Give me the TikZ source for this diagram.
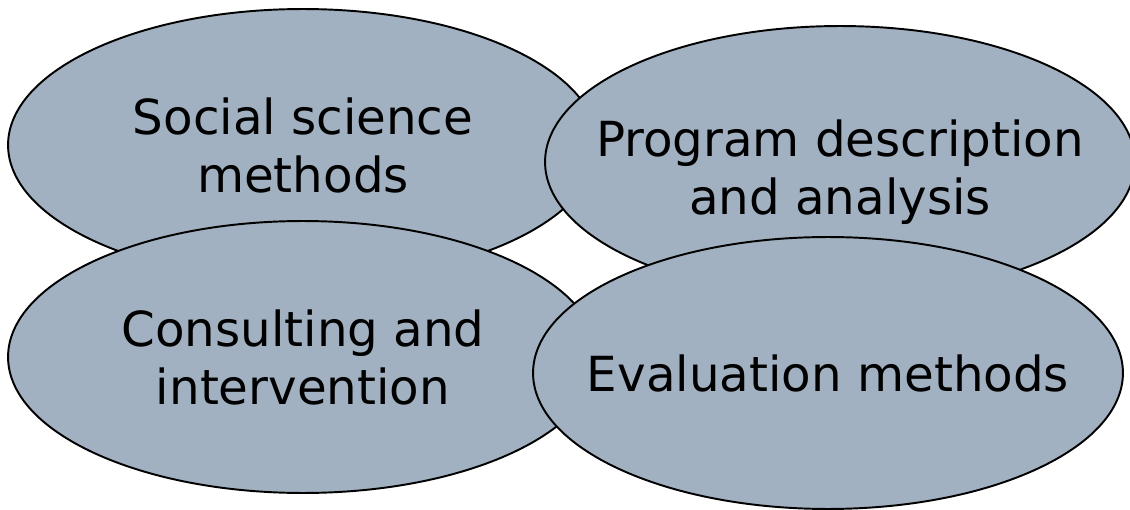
\documentclass[tikz,border=0pt]{standalone}
\usepackage{fontspec}
\setmainfont{DejaVu Sans}
\usetikzlibrary{shapes.geometric}
\definecolor{areafill}{RGB}{161,177,193}
\tikzset{
  area/.style={ellipse, draw=black, line width=1.1pt, fill=areafill,
    minimum width=11.8cm, minimum height=5.44cm, inner sep=0pt},
  areatext/.style={align=center, inner sep=0pt,
    font=\fontsize{27.5}{33}\selectfont}
}
\begin{document}
\begin{tikzpicture}[x=0.02cm,y=-0.02cm]
\useasboundingbox (0,0) rectangle (1130,510);
% top row
\node[area] (social) at (303,145) {};
\node[areatext] (socialtext) at (social) {Social science\\methods};
\node[area] (program) at (840,162) {};
\node[areatext] (programtext) at ([yshift=-6pt]program) {Program description\\and analysis};
% bottom row
\node[area] (consult) at (303,357) {};
\node[areatext] (consulttext) at (consult) {Consulting and\\intervention};
\node[area] (evaluation) at (828,373) {};
\node[areatext] (evaluationtext) at (evaluation) {Evaluation methods};
\end{tikzpicture}
\end{document}
